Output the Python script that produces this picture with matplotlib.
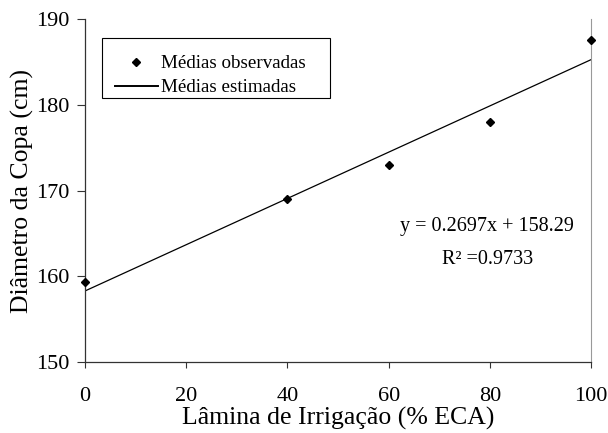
import numpy as np
import matplotlib.pyplot as plt
from matplotlib.patches import Rectangle

plt.rcParams['font.family'] = ['Liberation Serif', 'DejaVu Serif']

# dados observados
lamina = [0, 40, 60, 80, 100]
diametro = [159.3, 169.0, 173.0, 178.0, 187.6]

# regressão linear
a, b = 0.2697, 158.29
r2 = 0.9733
x_fit = np.array([0, 100])
y_fit = a * x_fit + b

W, H = 608, 433
fig = plt.figure(figsize=(W / 100, H / 100), dpi=100)
ax = fig.add_axes([0.14, 0.164, 0.832, 0.792])

ax.plot(lamina, diametro, 'D', color='black', markersize=4.5, label='Médias observadas',
        clip_on=False, zorder=3)
ax.plot(x_fit, y_fit, '-', color='black', linewidth=0.9, label='Médias estimadas')

ax.set_xlim(0, 100)
ax.set_ylim(150, 190)
ax.set_xticks([0, 20, 40, 60, 80, 100])
ax.set_yticks([150, 160, 170, 180, 190])
ax.tick_params(axis='both', labelsize=16, direction='out', width=0.8, color='#333333')
ax.tick_params(axis='x', pad=14, length=4)
ax.tick_params(axis='y', pad=5, length=6)

ax.spines['top'].set_visible(False)
ax.spines['right'].set_color('#999999')
for s in ['left', 'bottom']:
    ax.spines[s].set_linewidth(0.9)
    ax.spines[s].set_color('#333333')

ax.set_xlabel('Lâmina de Irrigação (% ECA)', fontsize=18.5, labelpad=1)
ax.set_ylabel('Diâmetro da Copa (cm)', fontsize=18.5, labelpad=2)

ax.text(79.5, 165.75, 'y = 0.2697x + 158.29', fontsize=14.5, ha='center', va='center')
ax.text(79.5, 162.0, 'R² =0.9733', fontsize=14.5, ha='center', va='center')

# legenda sem moldura + moldura desenhada à parte
leg = ax.legend(loc='upper left', bbox_to_anchor=(115 / W, 1 - 55 / H),
                bbox_transform=fig.transFigure, borderaxespad=0, borderpad=0,
                fontsize=13.7, frameon=False, handlelength=2.25, handletextpad=0.15,
                labelspacing=0.35)
leg.get_lines()[1].set_linewidth(1.4)
fig.add_artist(Rectangle((101.7 / W, 1 - 98 / H), 228 / W, 60 / H,
                         transform=fig.transFigure, fill=False,
                         edgecolor='black', linewidth=0.8))

fig.savefig('out.png', dpi=100)
